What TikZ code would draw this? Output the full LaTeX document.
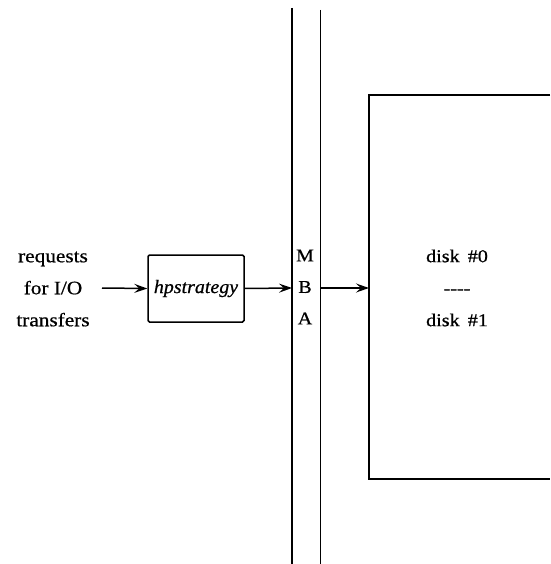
\documentclass[tikz,border=0pt]{standalone}
\usepackage{fontspec}
\setmainfont{Liberation Serif}[FakeStretch=1.12, FakeBold=0.7]
\newfontfamily\procfont{Liberation Serif}[FakeStretch=1.05, FakeBold=0.7]
\usetikzlibrary{arrows.meta}
\begin{document}
\begin{tikzpicture}[x=1pt,y=-1pt,
  line width=1.5pt,
  txt/.style={inner sep=0pt, align=center, font=\fontsize{19}{32}\selectfont},
  proc/.style={draw, rounded corners=1.5pt, minimum width=96pt, minimum height=67pt,
               inner sep=0pt, font=\procfont\itshape\fontsize{19}{22}\selectfont},
  flow/.style={-{Stealth[length=13pt,width=9pt,inset=5pt]}}]
  \useasboundingbox (0,0) rectangle (550,564);

  % incoming requests
  \node[txt] (req) at (53,289) {requests\\for I/O\\transfers};
  \coordinate (reqout) at (102,288);

  % strategy routine
  \node[proc] (hp) at (196,288.5) {hpstrategy};

  % MBA bus: two vertical rails
  \coordinate (busLtop) at (292,8);
  \coordinate (busLbot) at (292,564);
  \coordinate (busRtop) at (320.5,10);
  \coordinate (busRbot) at (320.5,564);
  \draw (busLtop) -- (busLbot);
  \draw (busRtop) -- (busRbot);
  \node[txt, font=\fontsize{18}{31.5}\selectfont] (mba) at (305,287) {M\\B\\A};
  \coordinate (busin) at (292,288);
  \coordinate (busout) at (320.5,288);

  % disk unit, open on the right
  \coordinate (dtop) at (550,95);
  \coordinate (dbot) at (550,479);
  \coordinate (din) at (369,288);
  \draw (dtop) -| (369,479) -- (dbot);
  \node[txt, font=\fontsize{18}{32}\selectfont] (disks) at (457,288)
       {disk \,\#0\\-{}-{}-{}-\\disk \,\#1};

  % data flow
  \draw[flow] (reqout) -- (hp.west);
  \draw[flow] (hp.east) -- (busin);
  \draw[flow] (busout) -- (din);
\end{tikzpicture}
\end{document}
